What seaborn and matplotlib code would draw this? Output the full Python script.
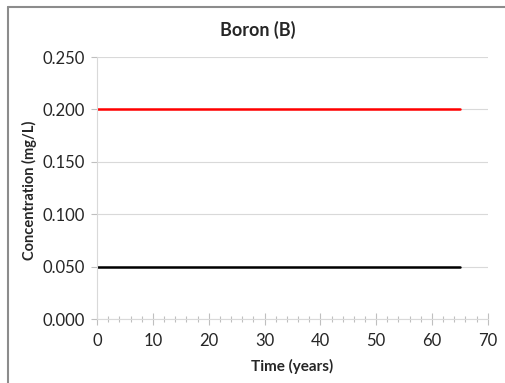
import numpy as np
import pandas as pd
import seaborn as sns
import matplotlib.pyplot as plt
from matplotlib.lines import Line2D
from matplotlib.ticker import MultipleLocator

# data
years = [0, 5, 10, 15, 20, 25, 30, 35, 40, 45, 50, 55, 60, 65]
guideline = [0.200, 0.200, 0.200, 0.200, 0.200, 0.200, 0.200,
             0.200, 0.200, 0.200, 0.200, 0.200, 0.200, 0.200]
predicted = [0.050, 0.050, 0.050, 0.050, 0.050, 0.050, 0.050,
             0.050, 0.050, 0.050, 0.050, 0.050, 0.050, 0.050]

df = pd.DataFrame({'Time': years * 2,
                   'Conc': guideline + predicted,
                   'series': ['guideline'] * len(years) + ['predicted'] * len(years)})

sns.set_style('white')
plt.rcParams['font.family'] = ['Lato', 'DejaVu Sans']

fig = plt.figure(figsize=(5.06, 3.83), dpi=100)
ax = fig.add_axes([0.192, 0.167, 0.772, 0.684])

sns.lineplot(data=df, x='Time', y='Conc', hue='series',
             palette={'guideline': '#ff0000', 'predicted': '#000000'},
             linewidth=1.8, legend=False, ax=ax)

# axis limits and ticks
ax.set_xlim(0, 70)
ax.set_ylim(0, 0.25)
ax.xaxis.set_major_locator(MultipleLocator(10))
ax.xaxis.set_minor_locator(MultipleLocator(2))
ax.yaxis.set_major_locator(MultipleLocator(0.05))
ax.set_yticklabels([f'{v:.3f}' for v in ax.get_yticks()])
ax.tick_params(axis='x', which='major', direction='inout', length=8, width=0.8,
               color='#bfbfbf', labelsize=12, pad=6, bottom=True, labelcolor='#262626')
ax.tick_params(axis='x', which='minor', direction='inout', length=5, width=0.8,
               color='#bfbfbf', bottom=True)
ax.tick_params(axis='y', which='major', direction='out', length=4, width=0.8,
               color='#bfbfbf', labelsize=12, pad=5, left=True, labelcolor='#262626')

# grid and spines
ax.grid(axis='y', color='#d9d9d9', linewidth=0.8)
ax.set_axisbelow(True)
for side in ['top', 'right']:
    ax.spines[side].set_visible(False)
for side in ['left', 'bottom']:
    ax.spines[side].set_color('#d9d9d9')
    ax.spines[side].set_linewidth(0.8)

# labels
fig.text(258 / 506, 1 - 30 / 383, 'Boron (B)', fontsize=13, fontweight='bold',
         ha='center', va='center')
ax.set_xlabel('Time (years)', fontsize=11, fontweight='bold', labelpad=7)
ax.set_ylabel('Concentration (mg/L)', fontsize=10.5, fontweight='bold')
ax.yaxis.set_label_coords(-0.155, 0.49)

# outer chart frame (left and top edges visible)
fig.add_artist(Line2D([8 / 506, 8 / 506], [0, 1 - 7 / 383], color='#8c8c8c', linewidth=1.5))
fig.add_artist(Line2D([8 / 506, 1], [1 - 7 / 383, 1 - 7 / 383], color='#8c8c8c', linewidth=1.5))

fig.savefig('out.png', dpi=100)
